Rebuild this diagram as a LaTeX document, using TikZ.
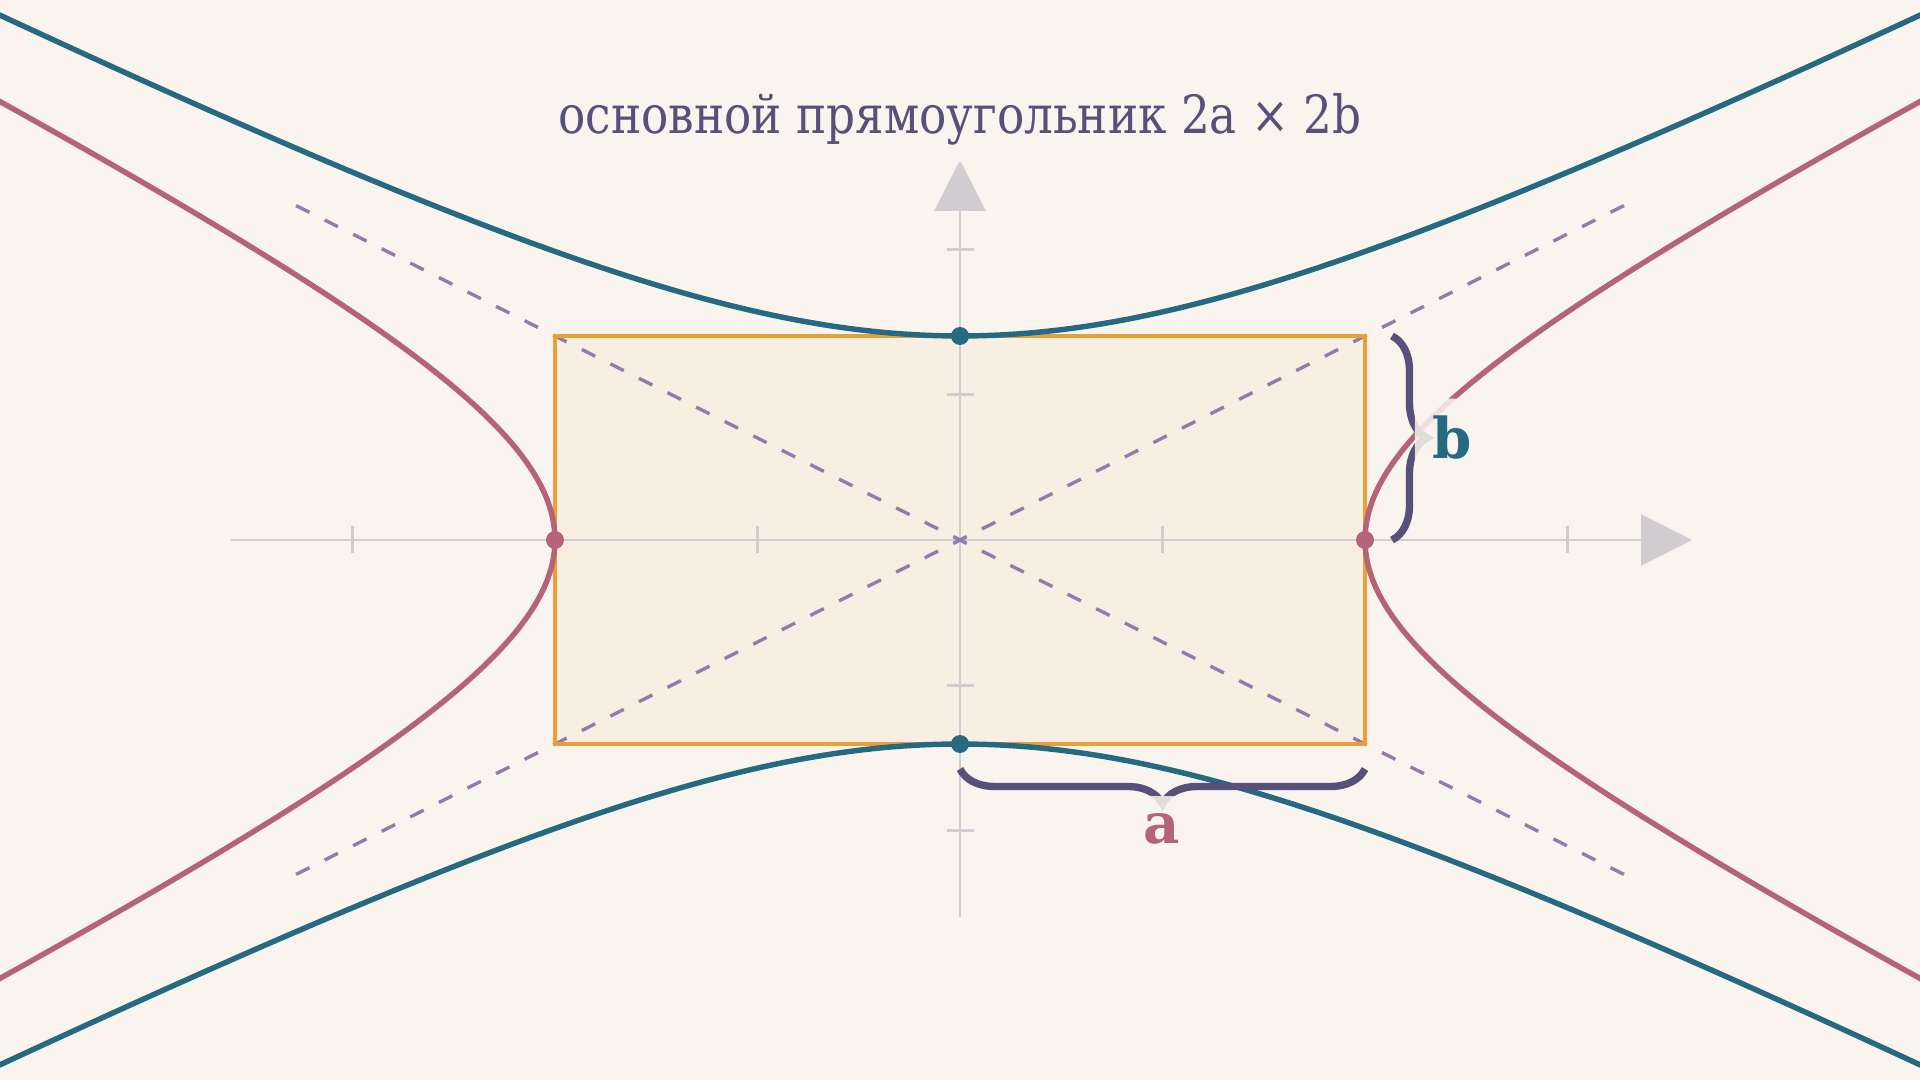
\documentclass[tikz,border=0pt]{standalone}
\usepackage{fontspec}
\setmainfont{DejaVu Serif}
\newfontfamily\titlefont{DejaVu Serif}[FakeStretch=0.86]
\usetikzlibrary{arrows.meta,decorations.pathreplacing}
\definecolor{bg}{RGB}{250,244,238}
\definecolor{rectfill}{RGB}{248,239,226}
\definecolor{rectline}{RGB}{235,159,56}
\definecolor{tealc}{RGB}{38,106,130}
\definecolor{pinkc}{RGB}{181,100,120}
\definecolor{dashc}{RGB}{148,122,172}
\definecolor{axisc}{RGB}{208,204,208}
\definecolor{ink}{RGB}{87,80,122}
\begin{document}
\begin{tikzpicture}[
    axis/.style={draw=axisc, line width=0.8pt, -{Triangle[length=0.51cm,width=0.51cm,fill=axisc]}},
    tick/.style={draw=axisc, line width=0.8pt},
    asym/.style={draw=dashc, line width=0.95pt, dash pattern=on 0.15cm off 0.17cm, dash phase=0.075cm},
    hyp/.style={line width=1.55pt, smooth, samples=140, domain=-1.7:1.7, variable=\t},
    vertex/.style={circle, inner sep=0pt, minimum size=0.18cm},
    bracebox/.style={draw=ink, line width=2.1pt, decorate, decoration={brace, amplitude=0.35cm}},
    halo/.style={fill=bg, fill opacity=0.85, text opacity=1, rounded corners=3pt, inner sep=5pt}]
  \fill[bg] (-9.6,-5.4) rectangle (9.6,5.4);
  \useasboundingbox (-9.6,-5.4) rectangle (9.6,5.4);
  \clip (-9.6,-5.4) rectangle (9.6,5.4);
  % basic rectangle
  \coordinate (O) at (0,0);
  \coordinate (C1) at (4.05,2.04);
  \coordinate (C2) at (-4.05,-2.04);
  \fill[rectfill] (C2) rectangle (C1);
  % axes
  \draw[axis] (-7.29,0) -- (7.32,0);
  \draw[axis] (0,-3.77) -- (0,3.80);
  \foreach \x in {-6.075,-2.025,2.025,6.075}
    \draw[tick] (\x,-0.135) -- (\x,0.135);
  \foreach \y in {-2.905,-1.455,1.455,2.905}
    \draw[tick] (-0.135,\y) -- (0.135,\y);
  % asymptotes
  \foreach \sx/\sy in {1/1,1/-1,-1/1,-1/-1}
    \draw[asym] (O) -- (6.686*\sx,3.368*\sy);
  \draw[rectline, line width=1.2pt] (C2) rectangle (C1);
  % hyperbolas
  \draw[hyp, pinkc] plot ({4.05*cosh(\t)},{2.04*sinh(\t)});
  \draw[hyp, pinkc] plot ({-4.05*cosh(\t)},{2.04*sinh(\t)});
  \draw[hyp, tealc] plot ({4.05*sinh(\t)},{2.04*cosh(\t)});
  \draw[hyp, tealc] plot ({4.05*sinh(\t)},{-2.04*cosh(\t)});
  % braces
  \coordinate (Bt) at (4.32,2.04);
  \coordinate (Bb) at (4.32,0);
  \coordinate (Ar) at (4.05,-2.29);
  \coordinate (Al) at (0,-2.29);
  \draw[bracebox] (Bt) -- (Bb);
  \draw[bracebox] (Ar) -- (Al);
  \node[halo, text=tealc, font=\fontsize{16}{18}\selectfont\bfseries] (lb) at (4.92,1.02) {b};
  \node[halo, text=pinkc, font=\fontsize{16}{18}\selectfont\bfseries] (la) at (2.02,-2.89) {a};
  % vertices
  \node[vertex, fill=pinkc] (V1) at (4.05,0) {};
  \node[vertex, fill=pinkc] (V2) at (-4.05,0) {};
  \node[vertex, fill=tealc] (W1) at (0,2.04) {};
  \node[vertex, fill=tealc] (W2) at (0,-2.04) {};
  \node[halo, text=ink, font=\titlefont\fontsize{15}{18}\selectfont] (title) at (0,4.21) {основной прямоугольник 2a × 2b};
\end{tikzpicture}
\end{document}
